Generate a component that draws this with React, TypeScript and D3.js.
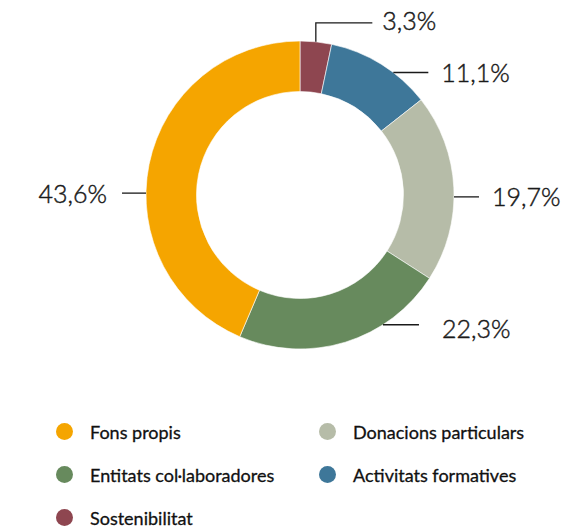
import React from "react";
import * as d3 from "d3";

const categories = ["Sostenibilitat", "Activitats formatives", "Donacions particulars", "Entitats col·laboradores", "Fons propis"];
const values = [3.3, 11.1, 19.7, 22.3, 43.6];
const valueLabels = ["3,3%", "11,1%", "19,7%", "22,3%", "43,6%"];
const colors = ["#8E4650", "#3E7799", "#B6BCA8", "#678A5D", "#F5A500"];

const legendOrder = ["Fons propis", "Donacions particulars", "Entitats col·laboradores", "Activitats formatives", "Sostenibilitat"];

// layout for leader lines (angle in degrees clockwise from top)
const labelLayout = [
  { angle: 5.9, rise: 19, run: 56.5, gap: 10, dy: -3, side: 1 },
  { angle: 37.3, rise: 0, run: 35, gap: 13, dy: 0, side: 1 },
  { angle: 90.7, rise: 0, run: 25, gap: 13, dy: -1, side: 1 },
  { angle: 147.4, rise: 0, run: 36, gap: 23, dy: 3, side: 1 },
  { angle: 270.7, rise: 0, run: 24, gap: 15, dy: 0, side: -1 },
];

const W = 586, H = 529;
const cx = 300, cy = 195;
const rOuter = 154, rInner = 103.5;

export default function App() {
  const pie = d3.pie<number>().value((d) => d).sort(null);
  const arcs = pie(values);
  const arcGen = d3.arc<d3.PieArcDatum<number>>().innerRadius(rInner).outerRadius(rOuter);
  const colorScale = d3.scaleOrdinal<string, string>().domain(categories).range(colors);

  const legendX = d3.scalePoint<number>().domain([0, 1]).range([64.5, 327.5]);
  const legendY = d3.scalePoint<number>().domain([0, 1, 2]).range([431.5, 517.5]);

  return (
    <svg width={W} height={H} style={{ position: "absolute", left: 0, top: 0 }} fontFamily="Lato, 'Open Sans', sans-serif">
      <g transform={`translate(${cx},${cy})`}>
        {arcs.map((a, i) => (
          <path key={i} d={arcGen(a) || ""} fill={colorScale(categories[i])} stroke="#ffffff" strokeWidth={0.6} />
        ))}
      </g>
      {labelLayout.map((l, i) => {
        const t = (l.angle * Math.PI) / 180;
        const x0 = cx + rOuter * Math.sin(t);
        const y0 = cy - rOuter * Math.cos(t);
        const y1 = y0 - l.rise;
        const x1 = x0 + l.side * l.run;
        const pts = l.rise ? `M${x0},${y0}V${y1}H${x1}` : `M${x0},${y0}H${x1}`;
        return (
          <g key={i}>
            <path d={pts} fill="none" stroke="#1a1a1a" strokeWidth={1.3} />
            <text
              x={x1 + l.side * l.gap}
              y={y1 + l.dy}
              dominantBaseline="central"
              textAnchor={l.side > 0 ? "start" : "end"}
              fontSize={25}
              fontWeight={300}
              fill="#1a1a1a"
              stroke="#1a1a1a"
              strokeWidth={0.45}
            >
              {valueLabels[i]}
            </text>
          </g>
        );
      })}
      {legendOrder.map((name, i) => {
        const col = i % 2;
        const row = Math.floor(i / 2);
        const x = legendX(col)!;
        const y = legendY(row)!;
        return (
          <g key={name}>
            <circle cx={x} cy={y} r={8.5} fill={colorScale(name)} />
            <text x={x + 25.5} y={y} dominantBaseline="central" fontSize={18} fill="#111" stroke="#111" strokeWidth={0.3}>
              {name}
            </text>
          </g>
        );
      })}
    </svg>
  );
}
